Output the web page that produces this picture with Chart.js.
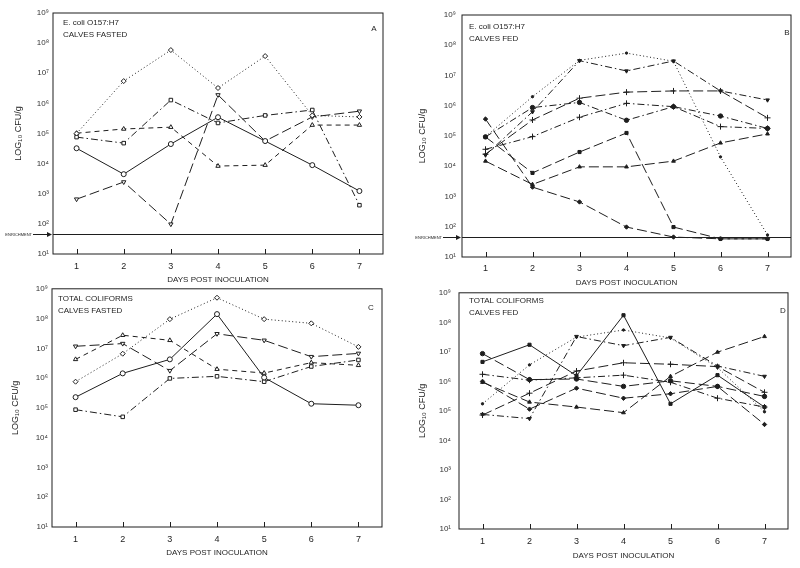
<!DOCTYPE html>
<html>
<head>
<meta charset="utf-8">
<script src="https://cdn.jsdelivr.net/npm/chart.js@4.4.1/dist/chart.umd.min.js"></script>
<style>
  body { margin: 0; background: #fff; }
  #wrap { position: relative; width: 800px; height: 568px; overflow: hidden; background: #fff; }
  canvas { position: absolute; }
</style>
</head>
<body>
<div id="wrap">
  <canvas id="chartA" width="400" height="290" style="left:0;top:0"></canvas>
  <canvas id="chartB" width="400" height="290" style="left:400px;top:0"></canvas>
  <canvas id="chartC" width="400" height="288" style="left:0;top:280px"></canvas>
  <canvas id="chartD" width="400" height="288" style="left:400px;top:280px"></canvas>
</div>
<script>
// x categories and y ticks (values are log10 CFU/g)
const days = ["1", "2", "3", "4", "5", "6", "7"];
const yTicks = [1, 2, 3, 4, 5, 6, 7, 8, 9];
const enrichment = 1.66;

// A - E. coli O157:H7, calves fasted
const aDiamond = [5.0, 6.74, 7.77, 6.51, 7.57, 5.6, 5.55];
const aCircle  = [4.51, 3.65, 4.65, 5.54, 4.75, 3.95, 3.09];
const aSquare  = [4.88, 4.68, 6.11, 5.35, 5.6, 5.78, 2.62];
const aInvTri  = [2.82, 3.39, 1.99, 6.28, 4.75, 5.55, 5.74];
const aTri     = [5.01, 5.15, 5.21, 3.92, 3.95, 5.28, 5.28];

// B - E. coli O157:H7, calves fed
const bDotted  = [4.98, 6.30, 7.50, 7.74, 7.47, 4.31, 1.73];
const bInvTri  = [4.37, 5.80, 7.49, 7.15, 7.48, 6.49, 6.19];
const bPlusUp  = [4.40, 5.53, 6.25, 6.45, 6.49, 6.49, 5.60];
const bPlusLow = [4.56, 4.98, 5.62, 6.08, 5.97, 5.31, 5.25];
const bCircle  = [4.97, 5.94, 6.11, 5.52, 5.97, 5.66, 5.25];
const bSquare  = [4.97, 3.78, 4.47, 5.10, 1.99, 1.60, 1.60];
const bDiamond = [5.56, 3.31, 2.82, 1.99, 1.66, 1.60, 1.60];
const bTri     = [4.17, 3.40, 3.98, 3.98, 4.17, 4.77, 5.07];

// C - total coliforms, calves fasted
const cDiamond = [5.88, 6.82, 7.98, 8.70, 7.98, 7.84, 7.05];
const cCircle  = [5.36, 6.16, 6.63, 8.15, 6.02, 5.14, 5.09];
const cSquare  = [4.94, 4.70, 5.99, 6.06, 5.88, 6.39, 6.61];
const cInvTri  = [7.07, 7.16, 6.25, 7.49, 7.27, 6.72, 6.83];
const cTri     = [6.63, 7.44, 7.27, 6.30, 6.17, 6.52, 6.43];

// D - total coliforms, calves fed
const dDotted  = [5.24, 6.56, 7.50, 7.74, 7.47, 6.47, 4.97];
const dSquare  = [6.66, 7.24, 6.19, 8.24, 5.24, 6.21, 5.13];
const dInvTri  = [4.88, 4.74, 7.52, 7.21, 7.49, 6.52, 6.17];
const dTri     = [5.97, 5.30, 5.13, 4.94, 6.17, 6.99, 7.52];
const dCircle  = [6.94, 6.06, 6.08, 5.83, 6.02, 5.83, 5.49];
const dPlusUp  = [4.86, 5.60, 6.35, 6.63, 6.58, 6.50, 5.63];
const dPlusLow = [6.24, 6.04, 6.12, 6.21, 5.97, 5.43, 5.13];
const dDiamond = [6.00, 5.06, 5.77, 5.43, 5.58, 5.83, 4.54];

const ink = "#1e1e1e";
const font = "'Liberation Sans', Arial, sans-serif";
const sup = { 1: "¹", 2: "²", 3: "³", 4: "⁴", 5: "⁵", 6: "⁶", 7: "⁷", 8: "⁸", 9: "⁹" };
const dashes = {
  dotted: [1, 2.5],
  solid: [],
  dashdot: [7, 3, 1.5, 3],
  longdash: [10, 4],
  dash: [5, 4]
};

function series(values, dash, marker, filled, rot, r) {
  return {
    data: values,
    borderColor: ink,
    borderWidth: 1,
    borderDash: dashes[dash],
    pointStyle: marker,
    pointRadius: r || (filled ? 2.2 : 2.5),
    pointRotation: rot || 0,
    pointBorderWidth: 1,
    pointBorderColor: ink,
    pointBackgroundColor: filled ? ink : "#fff",
    tension: 0
  };
}

// box around the plot, inward x ticks, enrichment line and panel texts
const framePlugin = {
  id: "frame",
  afterDraw(chart, args, o) {
    const { ctx, chartArea: a, scales } = chart;
    ctx.save();
    ctx.strokeStyle = ink;
    ctx.lineWidth = 1;
    ctx.strokeRect(a.left, a.top, a.right - a.left, a.bottom - a.top);
    scales.x.ticks.forEach((t, i) => {
      const px = Math.round(scales.x.getPixelForTick(i)) + 0.5;
      ctx.beginPath();
      ctx.moveTo(px, a.bottom);
      ctx.lineTo(px, a.bottom - 5);
      ctx.stroke();
    });
    if (o.enrich) {
      const yy = Math.round(scales.y.getPixelForValue(enrichment)) + 0.5;
      ctx.beginPath();
      ctx.moveTo(a.left, yy);
      ctx.lineTo(a.right, yy);
      ctx.moveTo(a.left - o.enrich.arrow, yy);
      ctx.lineTo(a.left - 2, yy);
      ctx.stroke();
      ctx.beginPath();
      ctx.moveTo(a.left - 1, yy);
      ctx.lineTo(a.left - 6, yy - 2.5);
      ctx.lineTo(a.left - 6, yy + 2.5);
      ctx.closePath();
      ctx.fillStyle = ink;
      ctx.fill();
      ctx.font = "4px " + font;
      ctx.textAlign = "right";
      ctx.textBaseline = "middle";
      ctx.fillText("ENRICHMENT", a.left - o.enrich.arrow - 1, yy);
    }
    ctx.fillStyle = ink;
    ctx.font = "8px " + font;
    ctx.textAlign = "left";
    ctx.textBaseline = "middle";
    ctx.fillText(o.line1, a.left + o.tx, a.top + o.ty);
    ctx.fillText(o.line2, a.left + o.tx, a.top + o.ty + 12);
    ctx.textAlign = "center";
    ctx.fillText(o.letter, a.right - o.lx, a.top + o.ly);
    ctx.restore();
  }
};

function makePanel(id, datasets, p) {
  new Chart(document.getElementById(id), {
    type: "line",
    data: { labels: days, datasets: datasets },
    options: {
      responsive: false,
      animation: false,
      layout: { padding: { top: p.top, right: p.right, left: 0, bottom: 0 } },
      plugins: {
        legend: { display: false },
        tooltip: { enabled: false },
        frame: p.frame
      },
      scales: {
        x: {
          type: "category",
          offset: true,
          grid: { display: false, drawTicks: false },
          border: { display: false },
          ticks: { color: ink, font: { family: font, size: 9 }, padding: p.xPad, maxRotation: 0 },
          title: { display: true, text: "DAYS POST INOCULATION", color: ink,
                   font: { family: font, size: 8 }, padding: { top: 0, bottom: p.titleBottom } },
          afterFit: s => { s.height = p.xHeight; }
        },
        y: {
          type: "linear",
          min: 1,
          max: 9,
          afterBuildTicks: s => { s.ticks = yTicks.map(v => ({ value: v })); },
          grid: { display: false, drawTicks: false },
          border: { display: false },
          ticks: { color: "#333", font: { family: font, size: 8 }, padding: p.yPad,
                   callback: v => "10" + sup[v] },
          title: { display: true, text: "LOG₁₀ CFU/g", color: ink,
                   font: { family: font, size: 9 }, padding: { top: p.yTitle, bottom: 0 } },
          afterFit: s => { s.width = p.yWidth; }
        }
      }
    },
    plugins: [framePlugin]
  });
}

makePanel("chartA", [
  series(aDiamond, "dotted", "rectRot", false),
  series(aCircle, "solid", "circle", false),
  series(aSquare, "dashdot", "rect", false),
  series(aInvTri, "longdash", "triangle", false, 180),
  series(aTri, "dash", "triangle", false)
], { top: 13, right: 17, yWidth: 53, xHeight: 36, xPad: 7, yPad: 4, yTitle: 13, titleBottom: 5,
     frame: { line1: "E. coli O157:H7", line2: "CALVES FASTED", letter: "A",
              tx: 10, ty: 10, lx: 9, ly: 16, enrich: { arrow: 20 } } });

makePanel("chartB", [
  series(bDotted, "dotted", "circle", true, 0, 1.2),
  series(bInvTri, "dashdot", "triangle", true, 180),
  series(bPlusUp, "longdash", "cross", false, 0, 3),
  series(bPlusLow, "dashdot", "cross", false, 0, 3),
  series(bCircle, "dashdot", "circle", true),
  series(bSquare, "longdash", "rect", true),
  series(bDiamond, "longdash", "rectRot", true),
  series(bTri, "longdash", "triangle", true)
], { top: 15, right: 9, yWidth: 62, xHeight: 33, xPad: 6, yPad: 6, yTitle: 17, titleBottom: 2,
     frame: { line1: "E. coli O157:H7", line2: "CALVES FED", letter: "B",
              tx: 7, ty: 12, lx: 4, ly: 18, enrich: { arrow: 19 } } });

makePanel("chartC", [
  series(cDiamond, "dotted", "rectRot", false),
  series(cCircle, "solid", "circle", false),
  series(cSquare, "dashdot", "rect", false),
  series(cInvTri, "longdash", "triangle", false, 180),
  series(cTri, "dash", "triangle", false)
], { top: 5, right: 18, yWidth: 52, xHeight: 41, xPad: 7, yPad: 4, yTitle: 10, titleBottom: 10,
     frame: { line1: "TOTAL COLIFORMS", line2: "CALVES FASTED", letter: "C",
              tx: 6, ty: 10, lx: 11, ly: 19 } });

makePanel("chartD", [
  series(dDotted, "dotted", "circle", true, 0, 1.2),
  series(dSquare, "solid", "rect", true),
  series(dInvTri, "dashdot", "triangle", true, 180),
  series(dTri, "longdash", "triangle", true),
  series(dCircle, "longdash", "circle", true),
  series(dPlusUp, "longdash", "cross", false, 0, 3),
  series(dPlusLow, "dashdot", "cross", false, 0, 3),
  series(dDiamond, "longdash", "rectRot", true)
], { top: 9, right: 12, yWidth: 59, xHeight: 39, xPad: 7, yPad: 8, yTitle: 17, titleBottom: 7,
     frame: { line1: "TOTAL COLIFORMS", line2: "CALVES FED", letter: "D",
              tx: 10, ty: 8, lx: 5, ly: 18 } });
</script>
</body>
</html>
